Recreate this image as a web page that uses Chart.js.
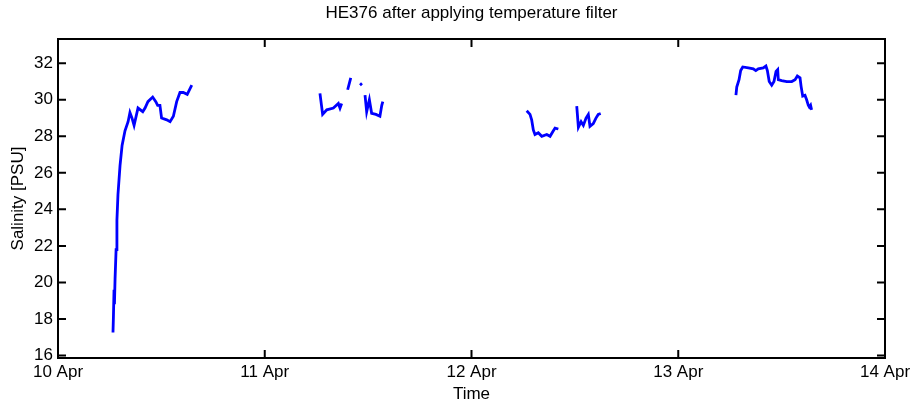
<!DOCTYPE html>
<html>
<head>
  <meta charset="utf-8">
  <title>HE376 after applying temperature filter</title>
  <script src="https://cdn.jsdelivr.net/npm/chart.js"></script>
  <style>
    body { margin: 0; background: #fff; }
  </style>
</head>
<body>
  <canvas id="salChart" width="915" height="405"></canvas>

  <script>
    // time in days after 10 Apr 00:00, null salinity = gap between track pieces
    const times = [
      0.266, 0.268, 0.271, 0.273, 0.276, 0.281, 0.285, 0.290, 0.300, 0.310, 0.324, 0.339,
      0.348, 0.358, 0.368, 0.387, 0.410, 0.421, 0.435, 0.458, 0.473, 0.482, 0.493, 0.501,
      0.526, 0.542, 0.558, 0.574, 0.590, 0.606, 0.625, 0.647,
      0.95,
      1.267, 1.280, 1.300, 1.332, 1.356, 1.364, 1.372,
      1.385,
      1.401, 1.416,
      1.44,
      1.461, 1.470,
      1.478,
      1.485, 1.493, 1.506, 1.517, 1.538, 1.557, 1.566, 1.571,
      1.9,
      2.267, 2.283, 2.291, 2.299, 2.307, 2.323, 2.340, 2.364, 2.380, 2.393, 2.404, 2.420,
      2.46,
      2.509, 2.517, 2.530, 2.541, 2.554, 2.565, 2.573, 2.589, 2.602, 2.613, 2.625,
      2.95,
      3.279, 3.283, 3.294, 3.302, 3.312, 3.339, 3.363, 3.375, 3.387, 3.411, 3.424, 3.431,
      3.440, 3.452, 3.463, 3.473, 3.481, 3.484, 3.500, 3.525, 3.549, 3.565, 3.576, 3.589,
      3.594, 3.602, 3.613, 3.621, 3.629, 3.634, 3.640, 3.645
    ];
    const salinity = [
      17.26, 18.08, 19.6, 18.8, 20.2, 21.8, 23.4, 24.8, 26.4, 27.5, 28.3, 28.8,
      29.3, 29.0, 28.6, 29.55, 29.35, 29.55, 29.9, 30.15, 29.9, 29.7, 29.7, 29.0,
      28.9, 28.8, 29.1, 29.9, 30.4, 30.4, 30.3, 30.8,
      null,
      30.35, 29.2, 29.45, 29.55, 29.8, 29.55, 29.8,
      null,
      30.55, 31.2,
      null,
      30.9, 30.8,
      null,
      30.26, 29.35, 30.0, 29.26, 29.2, 29.1, 29.7, 29.9,
      null,
      29.4, 29.2, 28.9, 28.35, 28.1, 28.2, 28.0, 28.1, 28.0, 28.25, 28.45, 28.4,
      null,
      29.65, 28.5, 28.8, 28.6, 29.0, 29.2, 28.55, 28.7, 29.0, 29.2, 29.25,
      null,
      30.26, 30.7, 31.1, 31.6, 31.8, 31.75, 31.7, 31.6, 31.7, 31.75, 31.85, 31.6,
      31.0, 30.8, 31.0, 31.55, 31.65, 31.1, 31.05, 31.0, 31.0, 31.1, 31.3, 31.2,
      30.75, 30.2, 30.25, 30.0, 29.7, 29.6, 29.7, 29.45
    ];
    const xTicks = [0, 1, 2, 3, 4];
    const xTickLabels = ['10 Apr', '11 Apr', '12 Apr', '13 Apr', '14 Apr'];
    const yTicks = [16, 18, 20, 22, 24, 26, 28, 30, 32];

    const points = times.map((t, i) => ({ x: t, y: salinity[i] }));

    const FONT = '"Liberation Sans", Arial, sans-serif';

    // MATLAB-style box with inward ticks on all four sides
    const boxTicks = {
      id: 'boxTicks',
      afterDatasetsDraw(chart) {
        const { ctx, chartArea: a, scales: { x, y } } = chart;
        const len = 8;
        ctx.save();
        ctx.strokeStyle = '#000';
        ctx.lineWidth = 2;
        ctx.beginPath();
        x.ticks.forEach(t => {
          const px = x.getPixelForValue(t.value);
          ctx.moveTo(px, a.bottom); ctx.lineTo(px, a.bottom - len);
          ctx.moveTo(px, a.top); ctx.lineTo(px, a.top + len);
        });
        y.ticks.forEach(t => {
          const py = y.getPixelForValue(t.value);
          ctx.moveTo(a.left, py); ctx.lineTo(a.left + len, py);
          ctx.moveTo(a.right, py); ctx.lineTo(a.right - len, py);
        });
        ctx.stroke();
        ctx.strokeRect(a.left, a.top, a.right - a.left, a.bottom - a.top);
        ctx.restore();
      }
    };

    const ctx = document.getElementById('salChart').getContext('2d');
    new Chart(ctx, {
      type: 'line',
      data: {
        datasets: [{
          label: 'Salinity',
          data: points,
          borderColor: '#0000ff',
          borderWidth: 2.8,
          pointRadius: 0,
          fill: false,
          tension: 0,
          spanGaps: false
        }]
      },
      options: {
        responsive: false,
        animation: false,
        layout: { padding: { left: 0, right: 30, top: 0, bottom: 0 } },
        plugins: {
          legend: { display: false },
          tooltip: { enabled: false },
          title: {
            display: true,
            fullSize: false,
            text: 'HE376 after applying temperature filter',
            color: '#000',
            font: { family: FONT, size: 17, weight: 'normal' },
            padding: { top: 3, bottom: 15.6 }
          }
        },
        scales: {
          x: {
            type: 'linear',
            min: 0,
            max: 4,
            afterBuildTicks: s => { s.ticks = xTicks.map(v => ({ value: v })); },
            afterFit: s => { s.height = 47; },
            grid: { display: false, drawTicks: false },
            border: { display: false },
            ticks: {
              color: '#000',
              padding: 4,
              autoSkip: false,
              maxRotation: 0,
              font: { family: FONT, size: 17 },
              callback: (v, i) => xTickLabels[i]
            },
            title: {
              display: true,
              text: 'Time',
              color: '#000',
              font: { family: FONT, size: 17 },
              padding: { top: 0, bottom: 0 }
            }
          },
          y: {
            type: 'linear',
            min: 15.86,
            max: 33.33,
            afterBuildTicks: s => { s.ticks = yTicks.map(v => ({ value: v })); },
            afterFit: s => { s.width = 58; },
            grid: { display: false, drawTicks: false },
            border: { display: false },
            ticks: {
              color: '#000',
              padding: 5,
              autoSkip: false,
              font: { family: FONT, size: 17 }
            },
            title: {
              display: true,
              text: 'Salinity [PSU]',
              color: '#000',
              font: { family: FONT, size: 17 },
              padding: { top: 8, bottom: 0 }
            }
          }
        }
      },
      plugins: [boxTicks]
    });
  </script>
</body>
</html>
